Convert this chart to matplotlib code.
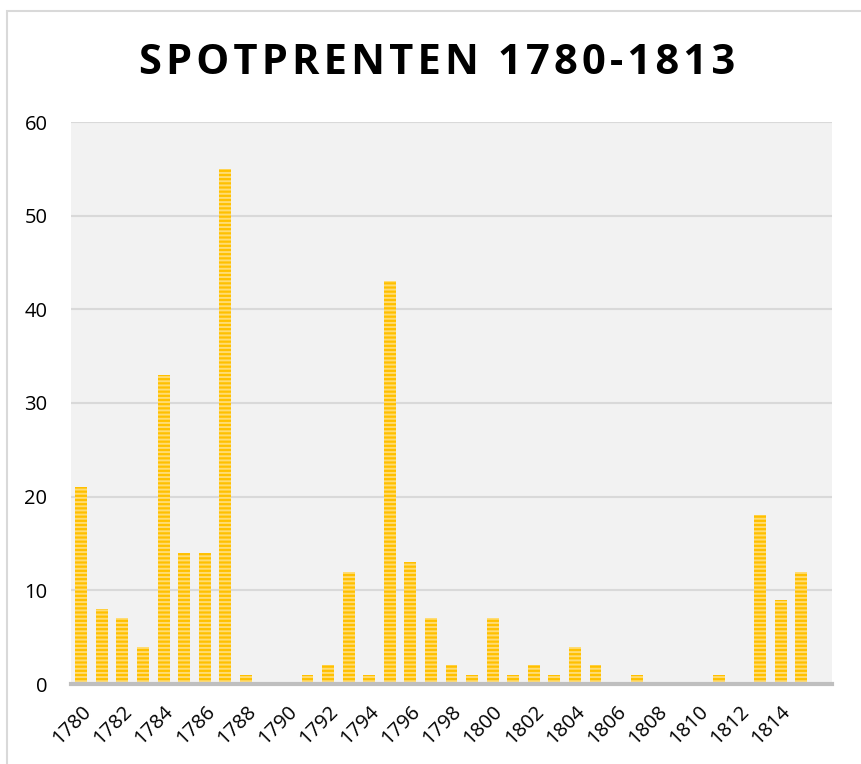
import matplotlib
matplotlib.use("Agg")
import matplotlib.pyplot as plt
from matplotlib.patches import Rectangle

# number of prints per year (1816 has no bar)
years = list(range(1780, 1817))
counts = [21, 8, 7, 4, 33, 14, 14, 55, 1, 0,
          0, 1, 2, 12, 1, 43, 13, 7, 2, 1,
          7, 1, 2, 1, 4, 2, 0, 1, 0, 0,
          0, 1, 0, 18, 9, 12, 0]
tick_years = list(range(1780, 1815, 2))
y_ticks = [0, 10, 20, 30, 40, 50, 60]
title = "SPOTPRENTEN 1780-1813"

plt.rcParams['font.family'] = ['Open Sans', 'DejaVu Sans']
plt.rcParams['hatch.linewidth'] = 1.4

fig = plt.figure(figsize=(8.61, 7.64), dpi=100)
fig.patches.append(Rectangle((7 / 861, -0.1), 1.2, 1 - 11 / 764 + 0.1,
                             transform=fig.transFigure, fill=False,
                             edgecolor='#D9D9D9', linewidth=1.5))

ax = fig.add_axes([71 / 861, 1 - 684 / 764, (832 - 71) / 861, (684 - 122) / 764])
ax.set_facecolor('#F2F2F2')

x = list(range(len(years)))
ax.bar(x, counts, width=0.58, color='#FFC000', edgecolor='#FFDC73',
       linewidth=0, hatch='----', zorder=3)

ax.set_xlim(-0.5, len(years) - 0.5)
ax.set_ylim(0, 60)
ax.set_yticks(y_ticks)
ax.yaxis.grid(True, color='#D9D9D9', linewidth=1.5, zorder=0)
ax.set_axisbelow(True)

for side in ['left', 'right', 'top']:
    ax.spines[side].set_visible(False)
ax.spines['bottom'].set_color('#BFBFBF')
ax.spines['bottom'].set_linewidth(3)
ax.spines['bottom'].set_zorder(4)

ax.set_xticks([years.index(y) for y in tick_years])
ax.set_xticklabels([str(y) for y in tick_years], rotation=45,
                   ha='right', va='top', rotation_mode='anchor')
ax.tick_params(axis='x', length=0, pad=13, labelsize=14.5)
ax.tick_params(axis='y', length=0, pad=17, labelsize=14.5)

fig.text(437 / 861, 1 - 63 / 764, '\u200a'.join(title), ha='center', va='center',
         fontsize=30, fontweight='bold', color='black')

fig.savefig('out.png', dpi=100)
